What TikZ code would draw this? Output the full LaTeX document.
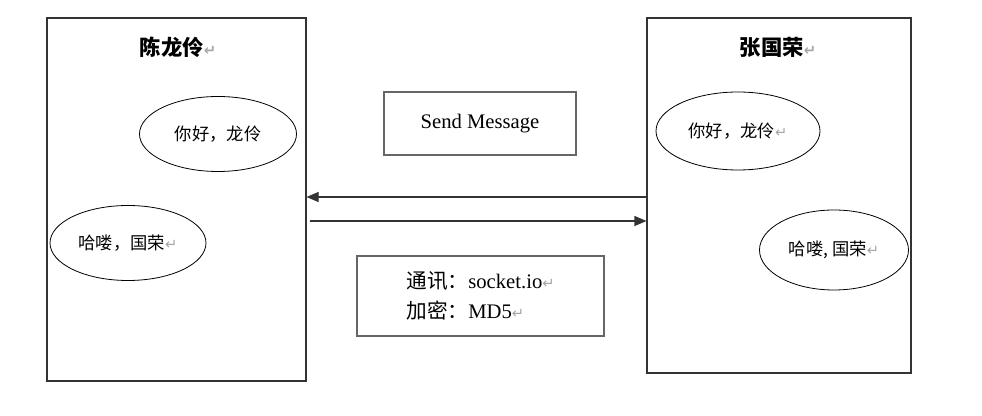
\documentclass[tikz,border=0pt]{standalone}
\usepackage{fontspec}
\setmainfont{Liberation Serif}
\newfontfamily\cjk{Noto Sans CJK SC}
\newfontfamily\symfont{DejaVu Sans}
\usetikzlibrary{arrows.meta,shapes.geometric}
\newcommand{\pmark}{{\symfont\fontsize{11}{11}\selectfont\color{gray!70}↵}}
\tikzset{
  panel/.style={draw=black!80,line width=0.8pt,rectangle},
  bubble/.style={draw,ellipse,line width=0.6pt,font=\cjk\fontsize{13}{15}\selectfont},
  tag/.style={draw=black!60,line width=0.8pt,rectangle,font=\fontsize{15.5}{18}\selectfont},
  person/.style={font=\cjk\bfseries\fontsize{16}{19}\selectfont},
  msg/.style={-{Triangle[length=9pt,width=7.5pt]},line width=0.8pt,black!80}
}
\begin{document}
\begin{tikzpicture}[x=0.75pt,y=-0.75pt]
\useasboundingbox (0,0) rectangle (982,416);
\node[panel,minimum width=194.25pt,minimum height=272.25pt] (lbox) at (176.5,199.5) {};
\node[panel,minimum width=198pt,minimum height=266.25pt] (rbox) at (779,195.5) {};
\node[person] (lname) at (178,47) {陈龙伶\pmark};
\node[person] (rname) at (778,47) {张国荣\pmark};
\node[bubble,minimum width=117.75pt,minimum height=56.25pt] (lhi) at (218,134) {你好，龙伶};
\node[bubble,minimum width=117pt,minimum height=56.25pt] (lhello) at (128,243) {哈喽，国荣\pmark};
\node[bubble,minimum width=123pt,minimum height=58.5pt] (rhi) at (738,131) {你好，龙伶\pmark};
\node[bubble,minimum width=111.75pt,minimum height=60pt] (rhello) at (834,250) {哈喽, 国荣\pmark};
\node[tag,minimum width=144pt,minimum height=47.25pt] (send) at (480,123.5) {Send Message};
\node[tag,minimum width=185.25pt,minimum height=60pt,align=left] (info) at (480.5,296)
  {{\cjk 通讯：}socket.io\pmark\\[5pt] {\cjk 加密：}MD5\pmark};
\coordinate (ya) at (0,197);
\coordinate (yb) at (0,221);
\draw[msg] (rbox.west |- ya) -- (lbox.east |- ya);
\draw[msg,shorten <=2.25pt] (lbox.east |- yb) -- (rbox.west |- yb);
\end{tikzpicture}
\end{document}
